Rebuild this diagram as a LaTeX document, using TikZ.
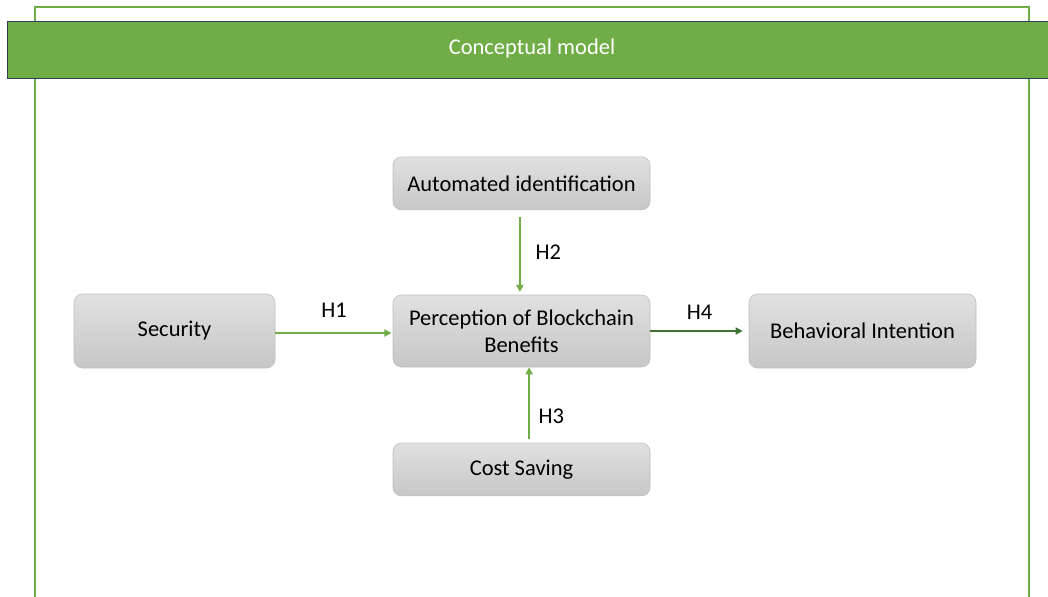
\documentclass[tikz,border=0pt]{standalone}
\usepackage{fontspec}
\setmainfont{Carlito}
\usetikzlibrary{arrows.meta}
\definecolor{leaf}{HTML}{70AD47}
\definecolor{moss}{HTML}{3E7330}
\definecolor{navy}{HTML}{2F3F58}
\definecolor{boxline}{HTML}{BDBDBD}
\begin{document}
\begin{tikzpicture}[
  block/.style={rectangle, rounded corners=6pt, draw=boxline, top color=black!12, bottom color=black!22,
    minimum width=6.425cm, minimum height=1.325cm, align=center, inner sep=2pt,
    font=\fontsize{16}{19}\selectfont},
  hyp/.style={text=black, font=\fontsize{16}{19}\selectfont},
  link/.style={-{Triangle[length=5pt,width=5pt]}, line width=1.3pt, leaf},
  node distance=3.5cm
]
\useasboundingbox (0,0) rectangle (26.2,-14.925);
% frame and header
\draw[leaf, line width=1pt] (0.875,-14.925) -- (0.875,-0.175) -- (25.725,-0.175) -- (25.725,-14.925);
\node[rectangle, draw=navy, line width=0.8pt, fill=leaf, minimum width=26.3cm, minimum height=1.425cm,
  anchor=north west, inner sep=0pt] (header) at (0.175,-0.525) {};
\node[text=white, font=\fontsize{16}{19}\selectfont] (title) at (13.3,-1.225) {Conceptual model};

% constructs
\node[block, minimum height=1.8cm] (pbb) at (13.0375,-8.275) {Perception of Blockchain\\Benefits};
\node[block, above of=pbb, node distance=3.69cm] (auto) {Automated identification};
\node[block, below of=pbb, node distance=3.46cm] (cost) {Cost Saving};
\node[block, left of=pbb, node distance=8.675cm, minimum width=5.025cm, minimum height=1.85cm] (sec) {Security};
\node[block, right of=pbb, node distance=8.525cm, minimum width=5.675cm, minimum height=1.85cm] (bi) {Behavioral Intention};

% hypotheses
\draw[link, shorten <=0.17cm, shorten >=0.07cm] ([xshift=-0.04cm]auto.south) -- node[hyp, right=0.25cm] (h2) {H2} ([xshift=-0.04cm]pbb.north);
\draw[link, shorten >=0.03cm] ([yshift=-0.05cm]sec.east) -- node[hyp, above=0.25cm] (h1) {H1} ([yshift=-0.05cm]pbb.west);
\draw[link, shorten <=0.08cm] ([xshift=0.19cm]cost.north) -- node[hyp, right=0.1cm, pos=0.35] (h3) {H3} ([xshift=0.19cm]pbb.south);
\draw[link, moss, line width=1pt, shorten >=0.15cm] (pbb.east) -- node[hyp, above=0.15cm] (h4) {H4} (bi.west);
\end{tikzpicture}
\end{document}
